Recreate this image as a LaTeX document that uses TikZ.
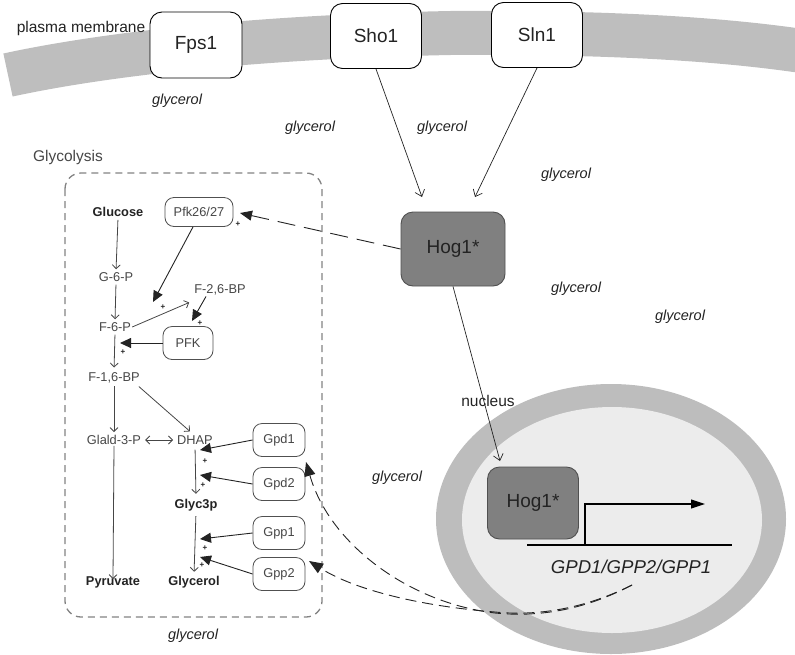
\documentclass[tikz,border=0pt]{standalone}
\usepackage{fontspec}
\setmainfont{Liberation Sans}
\usetikzlibrary{arrows.meta}
\definecolor{membrane}{RGB}{190,190,190}
\definecolor{hogfill}{RGB}{128,128,128}
\definecolor{hogedge}{RGB}{80,80,80}
\definecolor{nucring}{RGB}{189,189,189}
\definecolor{nucinner}{RGB}{236,236,236}
\definecolor{ink}{RGB}{70,70,70}
\definecolor{darkink}{RGB}{35,35,35}
\definecolor{dashgray}{RGB}{130,130,130}
\newcommand\fbig{\fontsize{19}{22}\selectfont}
\newcommand\fmid{\fontsize{15.5}{18}\selectfont}
\newcommand\fgly{\fontsize{14.5}{17}\selectfont\itshape}
\newcommand\fsm{\fontsize{12.8}{15}\selectfont}
\newcommand\fplus{\fontsize{8}{9}\selectfont\bfseries}
\tikzset{
  protein/.style={draw=black, fill=white, rounded corners=12pt, line width=0.9pt,
    minimum width=91pt, minimum height=65pt, font=\fbig, text=darkink},
  hog/.style={draw=hogedge, fill=hogfill, rounded corners=12pt, line width=0.9pt,
    font=\fbig, text=darkink},
  enzyme/.style={draw=hogedge, fill=white, rounded corners=9pt, line width=0.8pt,
    minimum width=52pt, minimum height=33pt, font=\fsm, text=ink, inner sep=1pt},
  metab/.style={font=\fsm, text=ink, inner sep=1pt},
  metabb/.style={font=\fsm\bfseries, text=darkink, inner sep=1pt},
  gly/.style={font=\fgly, text=darkink},
  plus/.style={font=\fplus, text=darkink, inner sep=0pt},
  signal/.style={draw=darkink, line width=0.7pt, -{Straight Barb[length=6pt,width=10pt]}},
  flux/.style={draw=ink, line width=0.8pt, -{Straight Barb[length=4pt,width=8pt]}},
  activ/.style={draw=darkink, line width=0.9pt, -{Triangle[length=11pt,width=10pt]}},
  longdash/.style={draw=darkink, line width=0.9pt, dash pattern=on 18pt off 9pt},
  genedash/.style={draw=darkink, line width=0.9pt, dash pattern=on 11pt off 6pt,
    -{Triangle[length=14pt,width=11pt]}}
}
\begin{document}
\begin{tikzpicture}[x=1pt,y=-1pt]
\useasboundingbox (0,0) rectangle (795,654);
\clip (0,0) rectangle (795,654);

% plasma membrane band
\draw[membrane, line width=44pt] (8,75) .. controls (100,55) and (250,37) .. (450,33)
  .. controls (600,32) and (720,38) .. (815,53);
\node[font=\fmid, text=darkink, inner sep=0pt] (pm) at (81,28) {plasma membrane};

% membrane proteins
\node[protein, minimum width=92pt, minimum height=66pt] (Fps1) at (196,45) {Fps1};
\node[protein] (Sho1) at (376,36) {Sho1};
\node[protein] (Sln1) at (537,35) {Sln1};

% nucleus
\fill[nucring] (611,519) ellipse [x radius=175pt, y radius=135pt];
\fill[nucinner] (612,520) ellipse [x radius=150pt, y radius=113pt];
\node[font=\fmid, text=darkink, inner sep=0pt] (nucl) at (488,401) {nucleus};

% glycolysis compartment
\draw[dashgray, line width=1.3pt, dash pattern=on 7pt off 5pt, rounded corners=16pt]
  (65,173) rectangle (322,617);
\node[font=\fmid, text=ink, inner sep=0pt] (glyc) at (68,157) {Glycolysis};

% kinase
\node[hog, minimum width=104pt, minimum height=74pt] (Hog) at (453,249) {Hog1*};
\node[hog, minimum width=91pt, minimum height=72pt] (HogN) at (533,503) {Hog1*};

% signalling
\coordinate (hogA) at (422,197);
\coordinate (hogB) at (475,197);
\coordinate (hogC) at (500,461);
\draw[signal] (Sho1.south) -- (hogA);
\draw[signal] (Sln1.south) -- (hogB);
\draw[signal] (Hog.south) -- (hogC);

% transcription unit
\coordinate (geneL) at (527,545);
\coordinate (geneR) at (732,545);
\coordinate (tss) at (585,545);
\coordinate (tx) at (705,504);
\draw[line width=1.1pt, black] (geneL) -- (geneR);
\draw[line width=1.1pt, black, -{Triangle[length=14pt,width=9pt]}] (tss) |- (tx);
\node[font=\fontsize{18.6}{21}\selectfont\itshape, text=darkink] (genes) at (631,567) {GPD1/GPP2/GPP1};

% metabolites
\node[metabb] (Glucose) at (118,212) {Glucose};
\node[metab] (G6P) at (116,277) {G-6-P};
\node[metab] (F6P) at (115,327) {F-6-P};
\node[metab] (F26BP) at (220,290) {F-2,6-BP};
\node[metab] (F16BP) at (114,378) {F-1,6-BP};
\node[metab] (Glald) at (114,440) {Glald-3-P};
\node[metab] (DHAP) at (195,440) {DHAP};
\node[metabb] (Glyc3p) at (196,505) {Glyc3p};
\node[metabb] (Pyr) at (113,582) {Pyruvate};
\node[metabb] (Glycerol) at (194,582) {Glycerol};

% enzymes
\node[enzyme, minimum width=68pt, minimum height=29pt] (Pfk26) at (199,212) {Pfk26/27};
\node[enzyme, minimum width=50pt] (PFK) at (188,343) {PFK};
\node[enzyme] (Gpd1) at (279,440) {Gpd1};
\node[enzyme] (Gpd2) at (279,484) {Gpd2};
\node[enzyme] (Gpp1) at (279,533) {Gpp1};
\node[enzyme] (Gpp2) at (279,574) {Gpp2};

% metabolic fluxes
\draw[flux, shorten <=2pt, shorten >=2pt] (Glucose.south) -- (G6P.north);
\draw[flux, shorten <=2pt, shorten >=2pt] (G6P.south) -- (F6P.north);
\draw[flux, shorten <=2pt, shorten >=4pt] (F6P.south) -- (F16BP.north);
\draw[flux] (F6P.east) -- ([shift={(-4,6)}]F26BP.south west);
\draw[flux, shorten <=2pt, shorten >=2pt] (F16BP.south) -- (Glald.north);
\draw[flux] ([shift={(-2,2)}]F16BP.south east) -- ([shift={(-5,-3)}]DHAP.north);
\draw[flux, {Straight Barb[length=4pt,width=8pt]}-{Straight Barb[length=4pt,width=8pt]}, shorten <=3pt, shorten >=3pt] (Glald.east) -- (DHAP.west);
\draw[flux] (Glald.south) -- ([yshift=-4pt]Pyr.north);
\draw[flux, shorten <=4pt, shorten >=4pt] (DHAP.south) -- (Glyc3p.north);
\draw[flux, shorten <=4pt, shorten >=3pt] (Glyc3p.south) -- (Glycerol.north);

% activations
\coordinate (rF26) at (153,302);
\coordinate (rPFKa) at (192,321);
\coordinate (rPFK) at (120,343);
\coordinate (rGpd1) at (200,450);
\coordinate (rGpd2) at (200,475);
\coordinate (rGpp1) at (200,539);
\coordinate (rGpp2) at (200,557);
\draw[activ] ([xshift=-6pt]Pfk26.south) -- (rF26);
\draw[activ] ([xshift=-14pt]F26BP.south) -- (rPFKa);
\draw[activ] (PFK.west) -- (rPFK);
\draw[activ] (Gpd1.west) -- (rGpd1);
\draw[activ] (Gpd2.west) -- (rGpd2);
\draw[activ] (Gpp1.west) -- (rGpp1);
\draw[activ] (Gpp2.west) -- (rGpp2);
\node[plus] (p1) at (163,307) {+};
\node[plus] (p2) at (200,323) {+};
\node[plus] (p3) at (123,352) {+};
\node[plus] (p4) at (205,461) {+};
\node[plus] (p5) at (203,485) {+};
\node[plus] (p6) at (205,548) {+};
\node[plus] (p7) at (202,565) {+};

% Hog1 control of Pfk26/27
\coordinate (pfkT) at (240,213);
\draw[longdash, -{Triangle[length=12pt,width=10pt]}] (Hog.west) -- (pfkT);
\node[plus] (p0) at (238,224) {+};

% gene products back to the enzymes
\coordinate (gd) at (632,585);
\coordinate (gpdT) at (306,462);
\coordinate (gppT) at (309,561);
\draw[genedash] (gd) .. controls (590,607) and (545,618) .. (495,613)
  .. controls (410,603) and (330,545) .. (gpdT);
\draw[genedash] (gd) .. controls (592,605) and (545,617) .. (495,612)
  .. controls (420,606) and (355,590) .. (gppT);

% glycerol
\node[gly] (g1) at (177,101) {glycerol};
\node[gly] (g2) at (310,128) {glycerol};
\node[gly] (g3) at (442,128) {glycerol};
\node[gly] (g4) at (566,175) {glycerol};
\node[gly] (g5) at (576,289) {glycerol};
\node[gly] (g6) at (680,317) {glycerol};
\node[gly] (g7) at (397,478) {glycerol};
\node[gly] (g8) at (193,636) {glycerol};
\end{tikzpicture}
\end{document}
